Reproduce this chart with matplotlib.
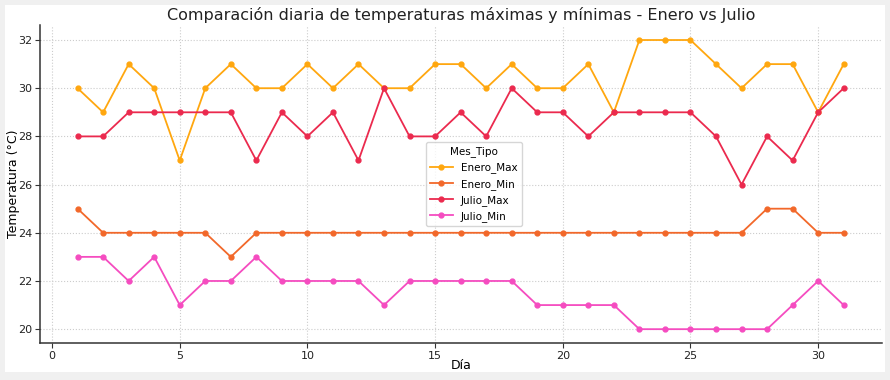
import matplotlib
matplotlib.use('Agg')
import matplotlib.pyplot as plt

dias = list(range(1, 32))
enero_max = [30, 29, 31, 30, 27, 30, 31, 30, 30, 31, 30, 31, 30, 30, 31, 31,
             30, 31, 30, 30, 31, 29, 32, 32, 32, 31, 30, 31, 31, 29, 31]
enero_min = [25, 24, 24, 24, 24, 24, 23, 24, 24, 24, 24, 24, 24, 24, 24, 24,
             24, 24, 24, 24, 24, 24, 24, 24, 24, 24, 24, 25, 25, 24, 24]
julio_max = [28, 28, 29, 29, 29, 29, 29, 27, 29, 28, 29, 27, 30, 28, 28, 29,
             28, 30, 29, 29, 28, 29, 29, 29, 29, 28, 26, 28, 27, 29, 30]
julio_min = [23, 23, 22, 23, 21, 22, 22, 23, 22, 22, 22, 22, 21, 22, 22, 22,
             22, 22, 21, 21, 21, 21, 20, 20, 20, 20, 20, 20, 21, 22, 21]

series = [('Enero_Max', enero_max, '#FFA70F'),
          ('Enero_Min', enero_min, '#F2682A'),
          ('Julio_Max', julio_max, '#EB2A4E'),
          ('Julio_Min', julio_min, '#F54CC0')]

fig = plt.figure(figsize=(8.9, 3.8), dpi=100, facecolor='#f0f0f0')
fig.patches.append(plt.Rectangle((0.006, 0.02), 0.988, 0.968, transform=fig.transFigure,
                                 facecolor='white', edgecolor='none', zorder=-1))
ax = fig.add_axes([0.045, 0.097, 0.946, 0.837])

for name, vals, c in series:
    ax.plot(dias, vals, color=c, lw=1.3, marker='o', ms=3.5, label=name)

ax.set_xlim(-0.47, 32.5)
ax.set_ylim(19.42, 32.62)
ax.set_xticks([0, 5, 10, 15, 20, 25, 30])
ax.set_yticks([20, 22, 24, 26, 28, 30, 32])
ax.grid(True, ls=':', color='#cccccc', lw=0.8)
ax.spines['top'].set_visible(False)
ax.spines['right'].set_visible(False)
for s in ('left', 'bottom'):
    ax.spines[s].set_color('#333333')
    ax.spines[s].set_linewidth(1.1)
ax.tick_params(labelsize=8, pad=2, color='#333333', labelcolor='#222222')
ax.set_xlabel('Día', fontsize=9)
ax.set_ylabel('Temperatura (°C)', fontsize=9)
ax.yaxis.set_label_coords(-0.032, 0.5)
ax.xaxis.set_label_coords(0.5, -0.069)
ax.xaxis.label.set_va('center')
ax.yaxis.label.set_va('center')
ax.set_title('Comparación diaria de temperaturas máximas y mínimas - Enero vs Julio',
             fontsize=11.5, pad=4, color='#222222')
ax.legend(title='Mes_Tipo', fontsize=7.5, title_fontsize=7.5, loc='center',
          bbox_to_anchor=(0.515, 0.5), handlelength=2.2)

fig.savefig('out.png', dpi=100, facecolor=fig.get_facecolor())
